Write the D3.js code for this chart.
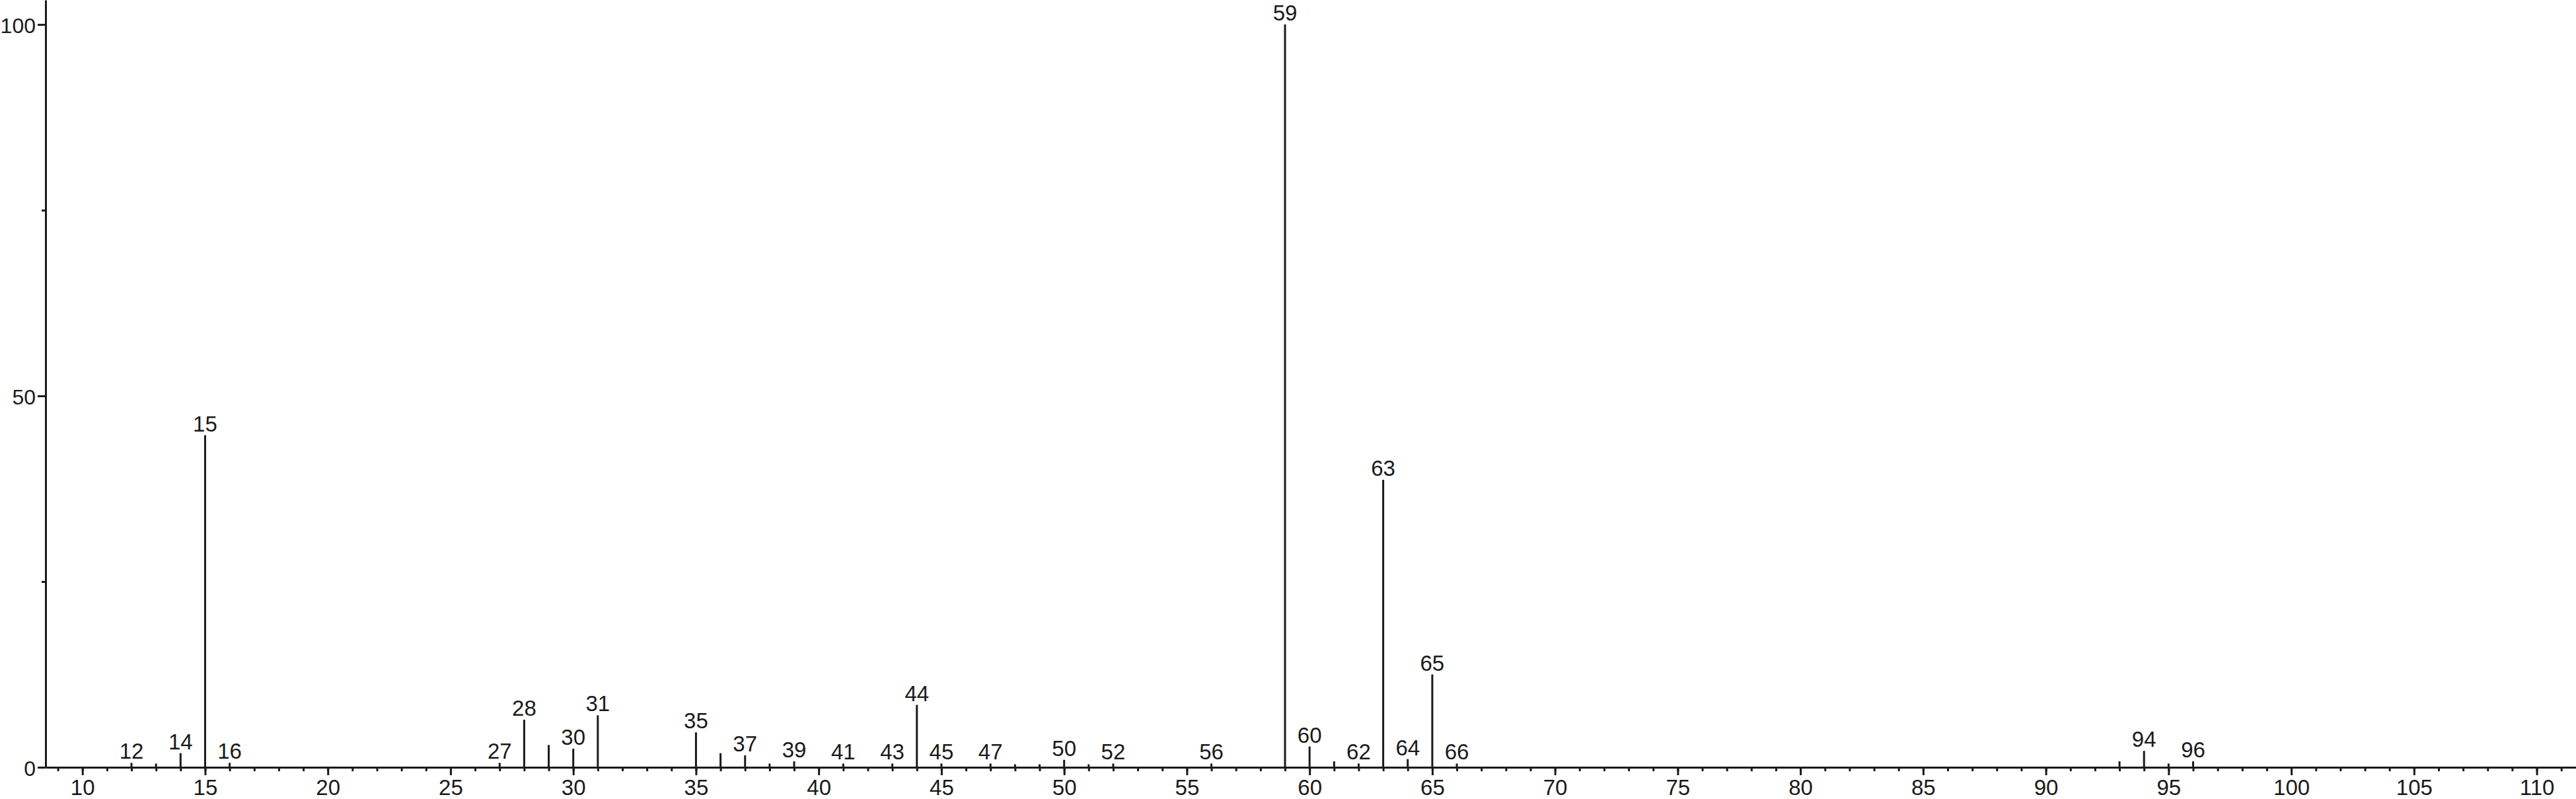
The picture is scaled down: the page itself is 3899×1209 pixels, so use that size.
<!DOCTYPE html>
<html>
<head>
<meta charset="utf-8">
<script src="https://cdn.jsdelivr.net/npm/d3@7"></script>
<style>
html, body { margin: 0; padding: 0; background: #fff; }
svg { display: block; }
text { font-family: "Liberation Sans", Arial, Helvetica, sans-serif; fill: #1a1a1a; }
</style>
</head>
<body>
<svg id="chart" width="3899" height="1209"></svg>
<script>
// m/z values and relative intensities (%)
const mz = [12,13,14,15,16,27,28,29,30,31,35,36,37,38,39,41,43,44,45,47,48,49,50,51,52,56,59,60,61,62,63,64,65,66,93,94,95,96];
const intensity = [0.6,0.5,1.9,44.7,0.6,0.6,6.4,3.0,2.5,7.0,4.7,1.9,1.6,0.5,0.8,0.5,0.5,8.4,0.5,0.5,0.4,0.4,1.0,0.4,0.5,0.5,100,2.8,0.8,0.5,38.7,1.1,12.5,0.5,0.8,2.2,0.5,0.8];
// peaks that carry a text label
const labeled = [12,14,15,16,27,28,30,31,35,37,39,41,43,44,45,47,50,52,56,59,60,62,63,64,65,66,94,96];
// axis ticks
const xMajorTicks = [10,15,20,25,30,35,40,45,50,55,60,65,70,75,80,85,90,95,100,105,110];
const xMinorTicks = d3.range(9, 112, 1);
const yMajorTicks = [0, 50, 100];
const yMinorTicks = [25, 75];

const ink = "#1a1a1a";
const svg = d3.select("#chart");

const x = d3.scaleLinear().domain([8.5, 111.6]).range([69, 3899]);
const y = d3.scaleLinear().domain([0, 103.3]).range([1161, 0]);

const fontSize = 33;
const fam = '"Liberation Sans", Arial, Helvetica, sans-serif';

// X axis: minor ticks
svg.append("g")
  .attr("transform", `translate(0,${y(0)})`)
  .call(d3.axisBottom(x).tickValues(xMinorTicks).tickSize(6).tickSizeOuter(0).tickFormat(""))
  .call(g => g.select(".domain").attr("stroke", ink).attr("stroke-width", 3))
  .call(g => g.selectAll(".tick line").attr("stroke", ink).attr("stroke-width", 3));

// X axis: major ticks with labels
svg.append("g")
  .attr("transform", `translate(0,${y(0)})`)
  .call(d3.axisBottom(x).tickValues(xMajorTicks).tickSize(12).tickSizeOuter(0).tickPadding(7).tickFormat(d3.format("d")))
  .call(g => g.select(".domain").remove())
  .call(g => g.selectAll(".tick line").attr("stroke", ink).attr("stroke-width", 3))
  .call(g => g.selectAll(".tick text").attr("font-size", fontSize).attr("fill", ink)
    .style("font-family", fam));

// Y axis: minor ticks
svg.append("g")
  .attr("transform", `translate(${x(8.5)},0)`)
  .call(d3.axisLeft(y).tickValues(yMinorTicks).tickSize(6).tickSizeOuter(0).tickFormat(""))
  .call(g => g.select(".domain").attr("stroke", ink).attr("stroke-width", 3))
  .call(g => g.selectAll(".tick line").attr("stroke", ink).attr("stroke-width", 3));

// Y axis: major ticks with labels
svg.append("g")
  .attr("transform", `translate(${x(8.5)},0)`)
  .call(d3.axisLeft(y).tickValues(yMajorTicks).tickSize(12).tickSizeOuter(0).tickPadding(3).tickFormat(d3.format("d")))
  .call(g => g.select(".domain").remove())
  .call(g => g.selectAll(".tick line").attr("stroke", ink).attr("stroke-width", 3))
  .call(g => g.selectAll(".tick text").attr("font-size", 32).attr("fill", ink).attr("dy", "0.38em")
    .style("font-family", fam));

// Peaks
const data = mz.map((m, i) => ({ m, v: intensity[i] }));

svg.append("g").selectAll("line")
  .data(data)
  .join("line")
  .attr("x1", d => x(d.m))
  .attr("x2", d => x(d.m))
  .attr("y1", y(0))
  .attr("y2", d => y(d.v))
  .attr("stroke", ink)
  .attr("stroke-width", 3);

// Peak labels
svg.append("g").selectAll("text")
  .data(data.filter(d => labeled.includes(d.m)))
  .join("text")
  .attr("x", d => x(d.m))
  .attr("y", d => y(d.v) - 6)
  .attr("text-anchor", "middle")
  .attr("font-size", fontSize)
  .text(d => d.m);
</script>
</body>
</html>
